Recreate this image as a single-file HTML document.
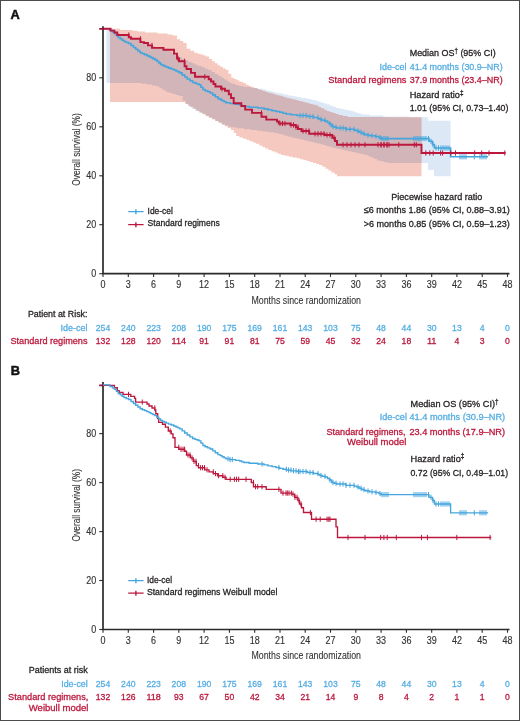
<!DOCTYPE html>
<html><head><meta charset="utf-8"><style>
html,body{margin:0;padding:0;background:#fff;}
svg{display:block;will-change:transform;}
text{font-family:"Liberation Sans",sans-serif;}
</style></head><body>
<svg width="520" height="721" viewBox="0 0 520 721">
<rect x="0.5" y="0.5" width="519" height="720" fill="#fff" stroke="#4a4a4a" stroke-width="1"/>
<text x="10.6" y="18.8" font-size="12.8" fill="#111" stroke="#111" stroke-width="0.5" text-anchor="start" font-weight="bold" >A</text>
<text x="10.8" y="374.6" font-size="12.8" fill="#111" stroke="#111" stroke-width="0.5" text-anchor="start" font-weight="bold" >B</text>
<defs><clipPath id="cb"><path d="M106.5,28.8 L109.2,28.8 L109.2,29.5 L112.0,29.5 L113.5,29.5 L113.5,31.2 L116.5,31.2 L116.5,33.0 L118.0,33.0 L119.7,33.0 L119.7,34.0 L123.0,34.0 L123.0,35.0 L126.3,35.0 L126.3,36.0 L128.0,36.0 L129.5,36.0 L129.5,37.0 L132.5,37.0 L132.5,38.0 L135.5,38.0 L135.5,39.0 L138.5,39.0 L138.5,40.0 L140.0,40.0 L141.7,40.0 L141.7,41.7 L145.0,41.7 L145.0,43.3 L148.3,43.3 L148.3,45.0 L150.0,45.0 L151.7,45.0 L151.7,46.0 L155.0,46.0 L155.0,47.0 L158.3,47.0 L158.3,48.0 L160.0,48.0 L161.7,48.0 L161.7,49.0 L165.0,49.0 L165.0,50.0 L168.3,50.0 L168.3,51.0 L170.0,51.0 L171.7,51.0 L171.7,53.0 L175.0,53.0 L175.0,55.0 L178.3,55.0 L178.3,57.0 L180.0,57.0 L181.7,57.0 L181.7,58.7 L185.0,58.7 L185.0,60.3 L188.3,60.3 L188.3,62.0 L190.0,62.0 L191.7,62.0 L191.7,63.3 L195.0,63.3 L195.0,64.7 L198.3,64.7 L198.3,66.0 L200.0,66.0 L201.7,66.0 L201.7,67.3 L205.0,67.3 L205.0,68.7 L208.3,68.7 L208.3,70.0 L210.0,70.0 L211.7,70.0 L211.7,72.0 L215.0,72.0 L215.0,74.0 L218.3,74.0 L218.3,76.0 L220.0,76.0 L221.4,76.0 L221.4,77.8 L224.1,77.8 L224.1,79.5 L226.9,79.5 L226.9,81.2 L229.6,81.2 L229.6,83.0 L231.0,83.0 L232.5,83.0 L232.5,84.0 L235.5,84.0 L235.5,85.0 L238.5,85.0 L238.5,86.0 L240.0,86.0 L243.6,86.0 L243.6,86.9 L250.8,86.9 L250.8,87.9 L257.9,87.9 L257.9,88.8 L261.5,88.8 L263.1,88.8 L263.1,89.6 L266.1,89.6 L266.1,90.4 L269.2,90.4 L269.2,91.1 L272.4,91.1 L272.4,91.9 L275.4,91.9 L275.4,92.7 L277.0,92.7 L279.2,92.7 L279.2,93.6 L283.5,93.6 L283.5,94.6 L287.8,94.6 L287.8,95.5 L290.0,95.5 L292.2,95.5 L292.2,96.3 L296.8,96.3 L296.8,97.1 L301.2,97.1 L301.2,97.9 L303.5,97.9 L305.2,97.9 L305.2,98.6 L308.6,98.6 L308.6,99.3 L311.9,99.3 L311.9,100.1 L315.3,100.1 L315.3,100.8 L317.0,100.8 L318.4,100.8 L318.4,101.8 L321.3,101.8 L321.3,102.7 L324.2,102.7 L324.2,103.6 L327.1,103.6 L327.1,104.6 L328.5,104.6 L330.1,104.6 L330.1,105.7 L333.2,105.7 L333.2,106.9 L336.4,106.9 L336.4,108.0 L338.0,108.0 L340.2,108.0 L340.2,108.9 L344.8,108.9 L344.8,109.9 L349.2,109.9 L349.2,110.8 L351.5,110.8 L352.9,110.8 L352.9,111.8 L355.8,111.8 L355.8,112.7 L358.7,112.7 L358.7,113.6 L361.6,113.6 L361.6,114.6 L363.0,114.6 L369.8,114.6 L369.8,115.5 L383.2,115.5 L383.2,116.5 L390.0,116.5 L409.0,116.5 L409.0,117.3 L428.0,117.3 L428.0,120.8 L450.6,120.8 L450.6,176.2 L434.0,176.2 L434.0,170.0 L428.0,170.0 L428.0,163.0 L421.5,163.0 L390.0,163.0 L388.1,163.0 L388.1,162.2 L384.2,162.2 L384.2,161.3 L380.4,161.3 L380.4,160.5 L378.5,160.5 L377.1,160.5 L377.1,159.1 L374.2,159.1 L374.2,157.8 L371.3,157.8 L371.3,156.4 L368.4,156.4 L368.4,155.0 L367.0,155.0 L365.3,155.0 L365.3,154.3 L361.8,154.3 L361.8,153.5 L358.4,153.5 L358.4,152.8 L354.9,152.8 L354.9,152.0 L351.5,152.0 L351.5,151.3 L348.1,151.3 L348.1,150.5 L344.6,150.5 L344.6,149.8 L341.2,149.8 L341.2,149.0 L337.7,149.0 L337.7,148.3 L336.0,148.3 L334.6,148.3 L334.6,147.5 L331.7,147.5 L331.7,146.7 L328.8,146.7 L328.8,145.9 L326.0,145.9 L326.0,145.1 L323.1,145.1 L323.1,144.3 L320.2,144.3 L320.2,143.5 L318.8,143.5 L317.2,143.5 L317.2,142.7 L314.0,142.7 L314.0,142.0 L310.8,142.0 L310.8,141.2 L307.6,141.2 L307.6,140.5 L304.4,140.5 L304.4,139.7 L301.2,139.7 L301.2,139.0 L298.0,139.0 L298.0,138.2 L294.8,138.2 L294.8,137.5 L291.6,137.5 L291.6,136.7 L290.0,136.7 L288.4,136.7 L288.4,135.8 L285.1,135.8 L285.1,134.8 L281.9,134.8 L281.9,133.9 L278.6,133.9 L278.6,133.0 L277.0,133.0 L274.1,133.0 L274.1,132.2 L268.3,132.2 L268.3,131.5 L262.5,131.5 L262.5,130.7 L256.7,130.7 L256.7,130.0 L250.9,130.0 L250.9,129.2 L248.0,129.2 L244.2,129.2 L244.2,128.2 L236.5,128.2 L236.5,127.3 L232.7,127.3 L231.2,127.3 L231.2,126.4 L228.2,126.4 L228.2,125.4 L225.3,125.4 L225.3,124.5 L223.8,124.5 L222.1,124.5 L222.1,122.8 L218.7,122.8 L218.7,121.0 L217.0,121.0 L215.3,121.0 L215.3,119.2 L212.1,119.2 L212.1,117.5 L210.4,117.5 L208.7,117.5 L208.7,115.8 L205.3,115.8 L205.3,114.0 L203.6,114.0 L201.9,114.0 L201.9,112.5 L198.7,112.5 L198.7,111.0 L197.0,111.0 L195.2,111.0 L195.2,109.0 L191.8,109.0 L191.8,107.0 L190.0,107.0 L188.7,107.0 L188.7,103.9 L185.9,103.9 L185.9,100.8 L184.6,100.8 L182.7,100.8 L182.7,96.0 L180.8,96.0 L179.1,96.0 L179.1,95.0 L175.7,95.0 L175.7,94.0 L172.4,94.0 L172.4,93.0 L169.0,93.0 L169.0,92.0 L167.3,92.0 L165.7,92.0 L165.7,90.1 L162.5,90.1 L162.5,88.2 L159.3,88.2 L159.3,86.3 L157.7,86.3 L155.8,86.3 L155.8,85.4 L151.9,85.4 L151.9,84.5 L150.0,84.5 L147.1,84.5 L147.1,83.8 L141.4,83.8 L141.4,83.0 L138.5,83.0 L106.5,83.0 Z"/></clipPath></defs>
<path d="M106.5,28.8 L109.2,28.8 L109.2,29.5 L112.0,29.5 L113.5,29.5 L113.5,31.2 L116.5,31.2 L116.5,33.0 L118.0,33.0 L119.7,33.0 L119.7,34.0 L123.0,34.0 L123.0,35.0 L126.3,35.0 L126.3,36.0 L128.0,36.0 L129.5,36.0 L129.5,37.0 L132.5,37.0 L132.5,38.0 L135.5,38.0 L135.5,39.0 L138.5,39.0 L138.5,40.0 L140.0,40.0 L141.7,40.0 L141.7,41.7 L145.0,41.7 L145.0,43.3 L148.3,43.3 L148.3,45.0 L150.0,45.0 L151.7,45.0 L151.7,46.0 L155.0,46.0 L155.0,47.0 L158.3,47.0 L158.3,48.0 L160.0,48.0 L161.7,48.0 L161.7,49.0 L165.0,49.0 L165.0,50.0 L168.3,50.0 L168.3,51.0 L170.0,51.0 L171.7,51.0 L171.7,53.0 L175.0,53.0 L175.0,55.0 L178.3,55.0 L178.3,57.0 L180.0,57.0 L181.7,57.0 L181.7,58.7 L185.0,58.7 L185.0,60.3 L188.3,60.3 L188.3,62.0 L190.0,62.0 L191.7,62.0 L191.7,63.3 L195.0,63.3 L195.0,64.7 L198.3,64.7 L198.3,66.0 L200.0,66.0 L201.7,66.0 L201.7,67.3 L205.0,67.3 L205.0,68.7 L208.3,68.7 L208.3,70.0 L210.0,70.0 L211.7,70.0 L211.7,72.0 L215.0,72.0 L215.0,74.0 L218.3,74.0 L218.3,76.0 L220.0,76.0 L221.4,76.0 L221.4,77.8 L224.1,77.8 L224.1,79.5 L226.9,79.5 L226.9,81.2 L229.6,81.2 L229.6,83.0 L231.0,83.0 L232.5,83.0 L232.5,84.0 L235.5,84.0 L235.5,85.0 L238.5,85.0 L238.5,86.0 L240.0,86.0 L243.6,86.0 L243.6,86.9 L250.8,86.9 L250.8,87.9 L257.9,87.9 L257.9,88.8 L261.5,88.8 L263.1,88.8 L263.1,89.6 L266.1,89.6 L266.1,90.4 L269.2,90.4 L269.2,91.1 L272.4,91.1 L272.4,91.9 L275.4,91.9 L275.4,92.7 L277.0,92.7 L279.2,92.7 L279.2,93.6 L283.5,93.6 L283.5,94.6 L287.8,94.6 L287.8,95.5 L290.0,95.5 L292.2,95.5 L292.2,96.3 L296.8,96.3 L296.8,97.1 L301.2,97.1 L301.2,97.9 L303.5,97.9 L305.2,97.9 L305.2,98.6 L308.6,98.6 L308.6,99.3 L311.9,99.3 L311.9,100.1 L315.3,100.1 L315.3,100.8 L317.0,100.8 L318.4,100.8 L318.4,101.8 L321.3,101.8 L321.3,102.7 L324.2,102.7 L324.2,103.6 L327.1,103.6 L327.1,104.6 L328.5,104.6 L330.1,104.6 L330.1,105.7 L333.2,105.7 L333.2,106.9 L336.4,106.9 L336.4,108.0 L338.0,108.0 L340.2,108.0 L340.2,108.9 L344.8,108.9 L344.8,109.9 L349.2,109.9 L349.2,110.8 L351.5,110.8 L352.9,110.8 L352.9,111.8 L355.8,111.8 L355.8,112.7 L358.7,112.7 L358.7,113.6 L361.6,113.6 L361.6,114.6 L363.0,114.6 L369.8,114.6 L369.8,115.5 L383.2,115.5 L383.2,116.5 L390.0,116.5 L409.0,116.5 L409.0,117.3 L428.0,117.3 L428.0,120.8 L450.6,120.8 L450.6,176.2 L434.0,176.2 L434.0,170.0 L428.0,170.0 L428.0,163.0 L421.5,163.0 L390.0,163.0 L388.1,163.0 L388.1,162.2 L384.2,162.2 L384.2,161.3 L380.4,161.3 L380.4,160.5 L378.5,160.5 L377.1,160.5 L377.1,159.1 L374.2,159.1 L374.2,157.8 L371.3,157.8 L371.3,156.4 L368.4,156.4 L368.4,155.0 L367.0,155.0 L365.3,155.0 L365.3,154.3 L361.8,154.3 L361.8,153.5 L358.4,153.5 L358.4,152.8 L354.9,152.8 L354.9,152.0 L351.5,152.0 L351.5,151.3 L348.1,151.3 L348.1,150.5 L344.6,150.5 L344.6,149.8 L341.2,149.8 L341.2,149.0 L337.7,149.0 L337.7,148.3 L336.0,148.3 L334.6,148.3 L334.6,147.5 L331.7,147.5 L331.7,146.7 L328.8,146.7 L328.8,145.9 L326.0,145.9 L326.0,145.1 L323.1,145.1 L323.1,144.3 L320.2,144.3 L320.2,143.5 L318.8,143.5 L317.2,143.5 L317.2,142.7 L314.0,142.7 L314.0,142.0 L310.8,142.0 L310.8,141.2 L307.6,141.2 L307.6,140.5 L304.4,140.5 L304.4,139.7 L301.2,139.7 L301.2,139.0 L298.0,139.0 L298.0,138.2 L294.8,138.2 L294.8,137.5 L291.6,137.5 L291.6,136.7 L290.0,136.7 L288.4,136.7 L288.4,135.8 L285.1,135.8 L285.1,134.8 L281.9,134.8 L281.9,133.9 L278.6,133.9 L278.6,133.0 L277.0,133.0 L274.1,133.0 L274.1,132.2 L268.3,132.2 L268.3,131.5 L262.5,131.5 L262.5,130.7 L256.7,130.7 L256.7,130.0 L250.9,130.0 L250.9,129.2 L248.0,129.2 L244.2,129.2 L244.2,128.2 L236.5,128.2 L236.5,127.3 L232.7,127.3 L231.2,127.3 L231.2,126.4 L228.2,126.4 L228.2,125.4 L225.3,125.4 L225.3,124.5 L223.8,124.5 L222.1,124.5 L222.1,122.8 L218.7,122.8 L218.7,121.0 L217.0,121.0 L215.3,121.0 L215.3,119.2 L212.1,119.2 L212.1,117.5 L210.4,117.5 L208.7,117.5 L208.7,115.8 L205.3,115.8 L205.3,114.0 L203.6,114.0 L201.9,114.0 L201.9,112.5 L198.7,112.5 L198.7,111.0 L197.0,111.0 L195.2,111.0 L195.2,109.0 L191.8,109.0 L191.8,107.0 L190.0,107.0 L188.7,107.0 L188.7,103.9 L185.9,103.9 L185.9,100.8 L184.6,100.8 L182.7,100.8 L182.7,96.0 L180.8,96.0 L179.1,96.0 L179.1,95.0 L175.7,95.0 L175.7,94.0 L172.4,94.0 L172.4,93.0 L169.0,93.0 L169.0,92.0 L167.3,92.0 L165.7,92.0 L165.7,90.1 L162.5,90.1 L162.5,88.2 L159.3,88.2 L159.3,86.3 L157.7,86.3 L155.8,86.3 L155.8,85.4 L151.9,85.4 L151.9,84.5 L150.0,84.5 L147.1,84.5 L147.1,83.8 L141.4,83.8 L141.4,83.0 L138.5,83.0 L106.5,83.0 Z" fill="#dce8f5"/>
<path d="M110.0,28.8 L120.0,28.8 L120.0,30.0 L130.0,30.0 L132.5,30.0 L132.5,30.8 L137.5,30.8 L137.5,31.5 L140.0,31.5 L145.0,31.5 L145.0,32.5 L150.0,32.5 L157.5,32.5 L157.5,33.5 L165.0,33.5 L167.5,33.5 L167.5,34.5 L172.5,34.5 L172.5,35.4 L175.0,35.4 L177.0,35.4 L177.0,39.2 L179.0,39.2 L180.4,39.2 L180.4,41.1 L183.2,41.1 L183.2,43.0 L184.6,43.0 L186.6,43.0 L186.6,48.8 L188.5,48.8 L190.4,48.8 L190.4,50.8 L194.1,50.8 L194.1,52.7 L196.0,52.7 L197.5,52.7 L197.5,53.7 L200.5,53.7 L200.5,54.6 L202.0,54.6 L203.4,54.6 L203.4,55.5 L206.3,55.5 L206.3,56.5 L207.7,56.5 L209.1,56.5 L209.1,58.9 L212.1,58.9 L212.1,61.3 L213.5,61.3 L214.9,61.3 L214.9,63.2 L217.6,63.2 L217.6,65.2 L219.0,65.2 L220.3,65.2 L220.3,66.8 L223.0,66.8 L223.0,68.4 L225.7,68.4 L225.7,70.0 L227.0,70.0 L228.4,70.0 L228.4,73.8 L231.3,73.8 L231.3,77.7 L232.7,77.7 L234.0,77.7 L234.0,79.0 L236.6,79.0 L236.6,80.2 L239.1,80.2 L239.1,81.5 L240.4,81.5 L241.2,81.5 L241.2,82.0 L242.0,82.0 L243.3,82.0 L243.3,83.3 L246.0,83.3 L246.0,84.7 L248.7,84.7 L248.7,86.0 L250.0,86.0 L251.4,86.0 L251.4,87.0 L254.1,87.0 L254.1,88.0 L256.9,88.0 L256.9,89.0 L259.6,89.0 L259.6,90.0 L261.0,90.0 L262.5,90.0 L262.5,91.0 L265.5,91.0 L265.5,92.0 L268.5,92.0 L268.5,93.0 L270.0,93.0 L271.5,93.0 L271.5,93.8 L274.5,93.8 L274.5,94.7 L277.5,94.7 L277.5,95.5 L280.5,95.5 L280.5,96.3 L283.5,96.3 L283.5,97.2 L286.5,97.2 L286.5,98.0 L288.0,98.0 L289.5,98.0 L289.5,98.7 L292.5,98.7 L292.5,99.5 L295.5,99.5 L295.5,100.2 L298.5,100.2 L298.5,101.0 L301.5,101.0 L301.5,101.7 L303.0,101.7 L304.4,101.7 L304.4,102.5 L307.2,102.5 L307.2,103.3 L310.0,103.3 L310.0,104.0 L312.8,104.0 L312.8,104.8 L315.6,104.8 L315.6,105.6 L317.0,105.6 L318.4,105.6 L318.4,106.9 L321.1,106.9 L321.1,108.3 L323.9,108.3 L323.9,109.7 L326.6,109.7 L326.6,111.0 L328.0,111.0 L329.5,111.0 L329.5,112.0 L332.5,112.0 L332.5,113.0 L335.5,113.0 L335.5,114.0 L338.5,114.0 L338.5,115.0 L340.0,115.0 L342.5,115.0 L342.5,116.0 L347.5,116.0 L347.5,117.0 L350.0,117.0 L385.8,117.0 L385.8,117.3 L421.5,117.3 L421.5,176.2 L338.0,176.2 L337.0,176.2 L337.0,174.2 L336.0,174.2 L334.5,174.2 L334.5,172.4 L331.4,172.4 L331.4,170.5 L328.4,170.5 L328.4,168.7 L325.4,168.7 L325.4,166.8 L322.3,166.8 L322.3,165.0 L320.8,165.0 L319.2,165.0 L319.2,164.0 L316.1,164.0 L316.1,163.0 L312.9,163.0 L312.9,162.0 L309.7,162.0 L309.7,161.0 L306.6,161.0 L306.6,160.0 L305.0,160.0 L303.3,160.0 L303.3,159.2 L300.0,159.2 L300.0,158.3 L296.7,158.3 L296.7,157.5 L295.0,157.5 L292.9,157.5 L292.9,156.7 L288.8,156.7 L288.8,155.8 L284.6,155.8 L284.6,155.0 L282.5,155.0 L280.9,155.0 L280.9,153.8 L277.8,153.8 L277.8,152.5 L274.7,152.5 L274.7,151.2 L271.6,151.2 L271.6,150.0 L270.0,150.0 L268.4,150.0 L268.4,148.4 L265.3,148.4 L265.3,146.9 L262.2,146.9 L262.2,145.4 L259.1,145.4 L259.1,143.8 L257.5,143.8 L255.9,143.8 L255.9,142.6 L252.8,142.6 L252.8,141.3 L249.7,141.3 L249.7,140.1 L246.6,140.1 L246.6,138.8 L245.0,138.8 L243.1,138.8 L243.1,137.4 L239.4,137.4 L239.4,136.0 L237.5,136.0 L236.2,136.0 L236.2,133.0 L233.8,133.0 L233.8,130.0 L232.5,130.0 L230.9,130.0 L230.9,128.1 L227.8,128.1 L227.8,126.2 L224.7,126.2 L224.7,124.4 L221.6,124.4 L221.6,122.5 L220.0,122.5 L218.4,122.5 L218.4,120.9 L215.3,120.9 L215.3,119.3 L212.2,119.3 L212.2,117.8 L209.1,117.8 L209.1,116.2 L207.5,116.2 L205.9,116.2 L205.9,114.3 L202.8,114.3 L202.8,112.5 L199.7,112.5 L199.7,110.7 L196.6,110.7 L196.6,108.8 L195.0,108.8 L193.6,108.8 L193.6,107.1 L190.7,107.1 L190.7,105.4 L187.9,105.4 L187.9,103.7 L185.0,103.7 L185.0,102.0 L183.6,102.0 L110.0,102.0 Z" fill="#f5c9bf"/>
<path d="M110.0,28.8 L120.0,28.8 L120.0,30.0 L130.0,30.0 L132.5,30.0 L132.5,30.8 L137.5,30.8 L137.5,31.5 L140.0,31.5 L145.0,31.5 L145.0,32.5 L150.0,32.5 L157.5,32.5 L157.5,33.5 L165.0,33.5 L167.5,33.5 L167.5,34.5 L172.5,34.5 L172.5,35.4 L175.0,35.4 L177.0,35.4 L177.0,39.2 L179.0,39.2 L180.4,39.2 L180.4,41.1 L183.2,41.1 L183.2,43.0 L184.6,43.0 L186.6,43.0 L186.6,48.8 L188.5,48.8 L190.4,48.8 L190.4,50.8 L194.1,50.8 L194.1,52.7 L196.0,52.7 L197.5,52.7 L197.5,53.7 L200.5,53.7 L200.5,54.6 L202.0,54.6 L203.4,54.6 L203.4,55.5 L206.3,55.5 L206.3,56.5 L207.7,56.5 L209.1,56.5 L209.1,58.9 L212.1,58.9 L212.1,61.3 L213.5,61.3 L214.9,61.3 L214.9,63.2 L217.6,63.2 L217.6,65.2 L219.0,65.2 L220.3,65.2 L220.3,66.8 L223.0,66.8 L223.0,68.4 L225.7,68.4 L225.7,70.0 L227.0,70.0 L228.4,70.0 L228.4,73.8 L231.3,73.8 L231.3,77.7 L232.7,77.7 L234.0,77.7 L234.0,79.0 L236.6,79.0 L236.6,80.2 L239.1,80.2 L239.1,81.5 L240.4,81.5 L241.2,81.5 L241.2,82.0 L242.0,82.0 L243.3,82.0 L243.3,83.3 L246.0,83.3 L246.0,84.7 L248.7,84.7 L248.7,86.0 L250.0,86.0 L251.4,86.0 L251.4,87.0 L254.1,87.0 L254.1,88.0 L256.9,88.0 L256.9,89.0 L259.6,89.0 L259.6,90.0 L261.0,90.0 L262.5,90.0 L262.5,91.0 L265.5,91.0 L265.5,92.0 L268.5,92.0 L268.5,93.0 L270.0,93.0 L271.5,93.0 L271.5,93.8 L274.5,93.8 L274.5,94.7 L277.5,94.7 L277.5,95.5 L280.5,95.5 L280.5,96.3 L283.5,96.3 L283.5,97.2 L286.5,97.2 L286.5,98.0 L288.0,98.0 L289.5,98.0 L289.5,98.7 L292.5,98.7 L292.5,99.5 L295.5,99.5 L295.5,100.2 L298.5,100.2 L298.5,101.0 L301.5,101.0 L301.5,101.7 L303.0,101.7 L304.4,101.7 L304.4,102.5 L307.2,102.5 L307.2,103.3 L310.0,103.3 L310.0,104.0 L312.8,104.0 L312.8,104.8 L315.6,104.8 L315.6,105.6 L317.0,105.6 L318.4,105.6 L318.4,106.9 L321.1,106.9 L321.1,108.3 L323.9,108.3 L323.9,109.7 L326.6,109.7 L326.6,111.0 L328.0,111.0 L329.5,111.0 L329.5,112.0 L332.5,112.0 L332.5,113.0 L335.5,113.0 L335.5,114.0 L338.5,114.0 L338.5,115.0 L340.0,115.0 L342.5,115.0 L342.5,116.0 L347.5,116.0 L347.5,117.0 L350.0,117.0 L385.8,117.0 L385.8,117.3 L421.5,117.3 L421.5,176.2 L338.0,176.2 L337.0,176.2 L337.0,174.2 L336.0,174.2 L334.5,174.2 L334.5,172.4 L331.4,172.4 L331.4,170.5 L328.4,170.5 L328.4,168.7 L325.4,168.7 L325.4,166.8 L322.3,166.8 L322.3,165.0 L320.8,165.0 L319.2,165.0 L319.2,164.0 L316.1,164.0 L316.1,163.0 L312.9,163.0 L312.9,162.0 L309.7,162.0 L309.7,161.0 L306.6,161.0 L306.6,160.0 L305.0,160.0 L303.3,160.0 L303.3,159.2 L300.0,159.2 L300.0,158.3 L296.7,158.3 L296.7,157.5 L295.0,157.5 L292.9,157.5 L292.9,156.7 L288.8,156.7 L288.8,155.8 L284.6,155.8 L284.6,155.0 L282.5,155.0 L280.9,155.0 L280.9,153.8 L277.8,153.8 L277.8,152.5 L274.7,152.5 L274.7,151.2 L271.6,151.2 L271.6,150.0 L270.0,150.0 L268.4,150.0 L268.4,148.4 L265.3,148.4 L265.3,146.9 L262.2,146.9 L262.2,145.4 L259.1,145.4 L259.1,143.8 L257.5,143.8 L255.9,143.8 L255.9,142.6 L252.8,142.6 L252.8,141.3 L249.7,141.3 L249.7,140.1 L246.6,140.1 L246.6,138.8 L245.0,138.8 L243.1,138.8 L243.1,137.4 L239.4,137.4 L239.4,136.0 L237.5,136.0 L236.2,136.0 L236.2,133.0 L233.8,133.0 L233.8,130.0 L232.5,130.0 L230.9,130.0 L230.9,128.1 L227.8,128.1 L227.8,126.2 L224.7,126.2 L224.7,124.4 L221.6,124.4 L221.6,122.5 L220.0,122.5 L218.4,122.5 L218.4,120.9 L215.3,120.9 L215.3,119.3 L212.2,119.3 L212.2,117.8 L209.1,117.8 L209.1,116.2 L207.5,116.2 L205.9,116.2 L205.9,114.3 L202.8,114.3 L202.8,112.5 L199.7,112.5 L199.7,110.7 L196.6,110.7 L196.6,108.8 L195.0,108.8 L193.6,108.8 L193.6,107.1 L190.7,107.1 L190.7,105.4 L187.9,105.4 L187.9,103.7 L185.0,103.7 L185.0,102.0 L183.6,102.0 L110.0,102.0 Z" fill="#d2b5b8" clip-path="url(#cb)"/>
<path d="M103,26.2 V273.7 H509.5" fill="none" stroke="#2b2b2b" stroke-width="1.7"/>
<line x1="99.3" y1="273.7" x2="103" y2="273.7" stroke="#2b2b2b" stroke-width="1.1"/>
<text x="96.3" y="277.3" font-size="10.2" text-anchor="end" fill="#333" stroke="#333" stroke-width="0.15" transform="translate(96.3,0) scale(0.88,1) translate(-96.3,0)">0</text>
<line x1="99.3" y1="224.7" x2="103" y2="224.7" stroke="#2b2b2b" stroke-width="1.1"/>
<text x="96.3" y="228.3" font-size="10.2" text-anchor="end" fill="#333" stroke="#333" stroke-width="0.15" transform="translate(96.3,0) scale(0.88,1) translate(-96.3,0)">20</text>
<line x1="99.3" y1="175.8" x2="103" y2="175.8" stroke="#2b2b2b" stroke-width="1.1"/>
<text x="96.3" y="179.4" font-size="10.2" text-anchor="end" fill="#333" stroke="#333" stroke-width="0.15" transform="translate(96.3,0) scale(0.88,1) translate(-96.3,0)">40</text>
<line x1="99.3" y1="126.8" x2="103" y2="126.8" stroke="#2b2b2b" stroke-width="1.1"/>
<text x="96.3" y="130.4" font-size="10.2" text-anchor="end" fill="#333" stroke="#333" stroke-width="0.15" transform="translate(96.3,0) scale(0.88,1) translate(-96.3,0)">60</text>
<line x1="99.3" y1="77.8" x2="103" y2="77.8" stroke="#2b2b2b" stroke-width="1.1"/>
<text x="96.3" y="81.4" font-size="10.2" text-anchor="end" fill="#333" stroke="#333" stroke-width="0.15" transform="translate(96.3,0) scale(0.88,1) translate(-96.3,0)">80</text>
<line x1="103.0" y1="273.7" x2="103.0" y2="276.9" stroke="#2b2b2b" stroke-width="1.1"/>
<text x="103.0" y="288.5" font-size="10.2" text-anchor="middle" fill="#333" stroke="#333" stroke-width="0.15" transform="translate(103.0,0) scale(0.88,1) translate(-103.0,0)">0</text>
<line x1="128.3" y1="273.7" x2="128.3" y2="276.9" stroke="#2b2b2b" stroke-width="1.1"/>
<text x="128.3" y="288.5" font-size="10.2" text-anchor="middle" fill="#333" stroke="#333" stroke-width="0.15" transform="translate(128.3,0) scale(0.88,1) translate(-128.3,0)">3</text>
<line x1="153.6" y1="273.7" x2="153.6" y2="276.9" stroke="#2b2b2b" stroke-width="1.1"/>
<text x="153.6" y="288.5" font-size="10.2" text-anchor="middle" fill="#333" stroke="#333" stroke-width="0.15" transform="translate(153.6,0) scale(0.88,1) translate(-153.6,0)">6</text>
<line x1="178.8" y1="273.7" x2="178.8" y2="276.9" stroke="#2b2b2b" stroke-width="1.1"/>
<text x="178.8" y="288.5" font-size="10.2" text-anchor="middle" fill="#333" stroke="#333" stroke-width="0.15" transform="translate(178.8,0) scale(0.88,1) translate(-178.8,0)">9</text>
<line x1="204.1" y1="273.7" x2="204.1" y2="276.9" stroke="#2b2b2b" stroke-width="1.1"/>
<text x="204.1" y="288.5" font-size="10.2" text-anchor="middle" fill="#333" stroke="#333" stroke-width="0.15" transform="translate(204.1,0) scale(0.88,1) translate(-204.1,0)">12</text>
<line x1="229.4" y1="273.7" x2="229.4" y2="276.9" stroke="#2b2b2b" stroke-width="1.1"/>
<text x="229.4" y="288.5" font-size="10.2" text-anchor="middle" fill="#333" stroke="#333" stroke-width="0.15" transform="translate(229.4,0) scale(0.88,1) translate(-229.4,0)">15</text>
<line x1="254.7" y1="273.7" x2="254.7" y2="276.9" stroke="#2b2b2b" stroke-width="1.1"/>
<text x="254.7" y="288.5" font-size="10.2" text-anchor="middle" fill="#333" stroke="#333" stroke-width="0.15" transform="translate(254.7,0) scale(0.88,1) translate(-254.7,0)">18</text>
<line x1="280.0" y1="273.7" x2="280.0" y2="276.9" stroke="#2b2b2b" stroke-width="1.1"/>
<text x="280.0" y="288.5" font-size="10.2" text-anchor="middle" fill="#333" stroke="#333" stroke-width="0.15" transform="translate(280.0,0) scale(0.88,1) translate(-280.0,0)">21</text>
<line x1="305.2" y1="273.7" x2="305.2" y2="276.9" stroke="#2b2b2b" stroke-width="1.1"/>
<text x="305.2" y="288.5" font-size="10.2" text-anchor="middle" fill="#333" stroke="#333" stroke-width="0.15" transform="translate(305.2,0) scale(0.88,1) translate(-305.2,0)">24</text>
<line x1="330.5" y1="273.7" x2="330.5" y2="276.9" stroke="#2b2b2b" stroke-width="1.1"/>
<text x="330.5" y="288.5" font-size="10.2" text-anchor="middle" fill="#333" stroke="#333" stroke-width="0.15" transform="translate(330.5,0) scale(0.88,1) translate(-330.5,0)">27</text>
<line x1="355.8" y1="273.7" x2="355.8" y2="276.9" stroke="#2b2b2b" stroke-width="1.1"/>
<text x="355.8" y="288.5" font-size="10.2" text-anchor="middle" fill="#333" stroke="#333" stroke-width="0.15" transform="translate(355.8,0) scale(0.88,1) translate(-355.8,0)">30</text>
<line x1="381.1" y1="273.7" x2="381.1" y2="276.9" stroke="#2b2b2b" stroke-width="1.1"/>
<text x="381.1" y="288.5" font-size="10.2" text-anchor="middle" fill="#333" stroke="#333" stroke-width="0.15" transform="translate(381.1,0) scale(0.88,1) translate(-381.1,0)">33</text>
<line x1="406.4" y1="273.7" x2="406.4" y2="276.9" stroke="#2b2b2b" stroke-width="1.1"/>
<text x="406.4" y="288.5" font-size="10.2" text-anchor="middle" fill="#333" stroke="#333" stroke-width="0.15" transform="translate(406.4,0) scale(0.88,1) translate(-406.4,0)">36</text>
<line x1="431.7" y1="273.7" x2="431.7" y2="276.9" stroke="#2b2b2b" stroke-width="1.1"/>
<text x="431.7" y="288.5" font-size="10.2" text-anchor="middle" fill="#333" stroke="#333" stroke-width="0.15" transform="translate(431.7,0) scale(0.88,1) translate(-431.7,0)">39</text>
<line x1="456.9" y1="273.7" x2="456.9" y2="276.9" stroke="#2b2b2b" stroke-width="1.1"/>
<text x="456.9" y="288.5" font-size="10.2" text-anchor="middle" fill="#333" stroke="#333" stroke-width="0.15" transform="translate(456.9,0) scale(0.88,1) translate(-456.9,0)">42</text>
<line x1="482.2" y1="273.7" x2="482.2" y2="276.9" stroke="#2b2b2b" stroke-width="1.1"/>
<text x="482.2" y="288.5" font-size="10.2" text-anchor="middle" fill="#333" stroke="#333" stroke-width="0.15" transform="translate(482.2,0) scale(0.88,1) translate(-482.2,0)">45</text>
<line x1="507.5" y1="273.7" x2="507.5" y2="276.9" stroke="#2b2b2b" stroke-width="1.1"/>
<text x="507.5" y="288.5" font-size="10.2" text-anchor="middle" fill="#333" stroke="#333" stroke-width="0.15" transform="translate(507.5,0) scale(0.88,1) translate(-507.5,0)">48</text>
<text x="251.5" y="303.5" font-size="11" fill="#333" stroke="#333" stroke-width="0.1" textLength="109.5" lengthAdjust="spacingAndGlyphs">Months since randomization</text>
<text x="0" y="0" font-size="11" fill="#333" stroke="#333" stroke-width="0.1" text-anchor="middle" textLength="72.5" lengthAdjust="spacingAndGlyphs" transform="translate(79.6,149.4) rotate(-90)">Overall survival (%)</text>
<path d="M103,382.0 V629.5 H509.5" fill="none" stroke="#2b2b2b" stroke-width="1.7"/>
<line x1="99.3" y1="629.5" x2="103" y2="629.5" stroke="#2b2b2b" stroke-width="1.1"/>
<text x="96.3" y="633.1" font-size="10.2" text-anchor="end" fill="#333" stroke="#333" stroke-width="0.15" transform="translate(96.3,0) scale(0.88,1) translate(-96.3,0)">0</text>
<line x1="99.3" y1="580.5" x2="103" y2="580.5" stroke="#2b2b2b" stroke-width="1.1"/>
<text x="96.3" y="584.1" font-size="10.2" text-anchor="end" fill="#333" stroke="#333" stroke-width="0.15" transform="translate(96.3,0) scale(0.88,1) translate(-96.3,0)">20</text>
<line x1="99.3" y1="531.6" x2="103" y2="531.6" stroke="#2b2b2b" stroke-width="1.1"/>
<text x="96.3" y="535.2" font-size="10.2" text-anchor="end" fill="#333" stroke="#333" stroke-width="0.15" transform="translate(96.3,0) scale(0.88,1) translate(-96.3,0)">40</text>
<line x1="99.3" y1="482.6" x2="103" y2="482.6" stroke="#2b2b2b" stroke-width="1.1"/>
<text x="96.3" y="486.2" font-size="10.2" text-anchor="end" fill="#333" stroke="#333" stroke-width="0.15" transform="translate(96.3,0) scale(0.88,1) translate(-96.3,0)">60</text>
<line x1="99.3" y1="433.6" x2="103" y2="433.6" stroke="#2b2b2b" stroke-width="1.1"/>
<text x="96.3" y="437.2" font-size="10.2" text-anchor="end" fill="#333" stroke="#333" stroke-width="0.15" transform="translate(96.3,0) scale(0.88,1) translate(-96.3,0)">80</text>
<line x1="103.0" y1="629.5" x2="103.0" y2="632.7" stroke="#2b2b2b" stroke-width="1.1"/>
<text x="103.0" y="644.3" font-size="10.2" text-anchor="middle" fill="#333" stroke="#333" stroke-width="0.15" transform="translate(103.0,0) scale(0.88,1) translate(-103.0,0)">0</text>
<line x1="128.3" y1="629.5" x2="128.3" y2="632.7" stroke="#2b2b2b" stroke-width="1.1"/>
<text x="128.3" y="644.3" font-size="10.2" text-anchor="middle" fill="#333" stroke="#333" stroke-width="0.15" transform="translate(128.3,0) scale(0.88,1) translate(-128.3,0)">3</text>
<line x1="153.6" y1="629.5" x2="153.6" y2="632.7" stroke="#2b2b2b" stroke-width="1.1"/>
<text x="153.6" y="644.3" font-size="10.2" text-anchor="middle" fill="#333" stroke="#333" stroke-width="0.15" transform="translate(153.6,0) scale(0.88,1) translate(-153.6,0)">6</text>
<line x1="178.8" y1="629.5" x2="178.8" y2="632.7" stroke="#2b2b2b" stroke-width="1.1"/>
<text x="178.8" y="644.3" font-size="10.2" text-anchor="middle" fill="#333" stroke="#333" stroke-width="0.15" transform="translate(178.8,0) scale(0.88,1) translate(-178.8,0)">9</text>
<line x1="204.1" y1="629.5" x2="204.1" y2="632.7" stroke="#2b2b2b" stroke-width="1.1"/>
<text x="204.1" y="644.3" font-size="10.2" text-anchor="middle" fill="#333" stroke="#333" stroke-width="0.15" transform="translate(204.1,0) scale(0.88,1) translate(-204.1,0)">12</text>
<line x1="229.4" y1="629.5" x2="229.4" y2="632.7" stroke="#2b2b2b" stroke-width="1.1"/>
<text x="229.4" y="644.3" font-size="10.2" text-anchor="middle" fill="#333" stroke="#333" stroke-width="0.15" transform="translate(229.4,0) scale(0.88,1) translate(-229.4,0)">15</text>
<line x1="254.7" y1="629.5" x2="254.7" y2="632.7" stroke="#2b2b2b" stroke-width="1.1"/>
<text x="254.7" y="644.3" font-size="10.2" text-anchor="middle" fill="#333" stroke="#333" stroke-width="0.15" transform="translate(254.7,0) scale(0.88,1) translate(-254.7,0)">18</text>
<line x1="280.0" y1="629.5" x2="280.0" y2="632.7" stroke="#2b2b2b" stroke-width="1.1"/>
<text x="280.0" y="644.3" font-size="10.2" text-anchor="middle" fill="#333" stroke="#333" stroke-width="0.15" transform="translate(280.0,0) scale(0.88,1) translate(-280.0,0)">21</text>
<line x1="305.2" y1="629.5" x2="305.2" y2="632.7" stroke="#2b2b2b" stroke-width="1.1"/>
<text x="305.2" y="644.3" font-size="10.2" text-anchor="middle" fill="#333" stroke="#333" stroke-width="0.15" transform="translate(305.2,0) scale(0.88,1) translate(-305.2,0)">24</text>
<line x1="330.5" y1="629.5" x2="330.5" y2="632.7" stroke="#2b2b2b" stroke-width="1.1"/>
<text x="330.5" y="644.3" font-size="10.2" text-anchor="middle" fill="#333" stroke="#333" stroke-width="0.15" transform="translate(330.5,0) scale(0.88,1) translate(-330.5,0)">27</text>
<line x1="355.8" y1="629.5" x2="355.8" y2="632.7" stroke="#2b2b2b" stroke-width="1.1"/>
<text x="355.8" y="644.3" font-size="10.2" text-anchor="middle" fill="#333" stroke="#333" stroke-width="0.15" transform="translate(355.8,0) scale(0.88,1) translate(-355.8,0)">30</text>
<line x1="381.1" y1="629.5" x2="381.1" y2="632.7" stroke="#2b2b2b" stroke-width="1.1"/>
<text x="381.1" y="644.3" font-size="10.2" text-anchor="middle" fill="#333" stroke="#333" stroke-width="0.15" transform="translate(381.1,0) scale(0.88,1) translate(-381.1,0)">33</text>
<line x1="406.4" y1="629.5" x2="406.4" y2="632.7" stroke="#2b2b2b" stroke-width="1.1"/>
<text x="406.4" y="644.3" font-size="10.2" text-anchor="middle" fill="#333" stroke="#333" stroke-width="0.15" transform="translate(406.4,0) scale(0.88,1) translate(-406.4,0)">36</text>
<line x1="431.7" y1="629.5" x2="431.7" y2="632.7" stroke="#2b2b2b" stroke-width="1.1"/>
<text x="431.7" y="644.3" font-size="10.2" text-anchor="middle" fill="#333" stroke="#333" stroke-width="0.15" transform="translate(431.7,0) scale(0.88,1) translate(-431.7,0)">39</text>
<line x1="456.9" y1="629.5" x2="456.9" y2="632.7" stroke="#2b2b2b" stroke-width="1.1"/>
<text x="456.9" y="644.3" font-size="10.2" text-anchor="middle" fill="#333" stroke="#333" stroke-width="0.15" transform="translate(456.9,0) scale(0.88,1) translate(-456.9,0)">42</text>
<line x1="482.2" y1="629.5" x2="482.2" y2="632.7" stroke="#2b2b2b" stroke-width="1.1"/>
<text x="482.2" y="644.3" font-size="10.2" text-anchor="middle" fill="#333" stroke="#333" stroke-width="0.15" transform="translate(482.2,0) scale(0.88,1) translate(-482.2,0)">45</text>
<line x1="507.5" y1="629.5" x2="507.5" y2="632.7" stroke="#2b2b2b" stroke-width="1.1"/>
<text x="507.5" y="644.3" font-size="10.2" text-anchor="middle" fill="#333" stroke="#333" stroke-width="0.15" transform="translate(507.5,0) scale(0.88,1) translate(-507.5,0)">48</text>
<text x="251.5" y="659.3" font-size="11" fill="#333" stroke="#333" stroke-width="0.1" textLength="109.5" lengthAdjust="spacingAndGlyphs">Months since randomization</text>
<text x="0" y="0" font-size="11" fill="#333" stroke="#333" stroke-width="0.1" text-anchor="middle" textLength="72.5" lengthAdjust="spacingAndGlyphs" transform="translate(79.6,505.2) rotate(-90)">Overall survival (%)</text>
<path d="M103.0,28.8 L108.5,28.8 L110.0,28.8 L110.0,30.5 L111.5,30.5 L112.5,30.5 L112.5,31.9 L114.4,31.9 L114.4,33.4 L115.4,33.4 L116.4,33.4 L116.4,35.5 L118.2,35.5 L118.2,37.5 L119.2,37.5 L120.2,37.5 L120.2,38.8 L122.1,38.8 L122.1,40.2 L124.0,40.2 L124.0,41.5 L125.0,41.5 L126.2,41.5 L126.2,42.5 L128.6,42.5 L128.6,43.5 L129.8,43.5 L131.0,43.5 L131.0,45.5 L133.4,45.5 L133.4,47.5 L134.6,47.5 L135.7,47.5 L135.7,49.2 L137.9,49.2 L137.9,51.0 L140.2,51.0 L140.2,52.7 L141.3,52.7 L142.4,52.7 L142.4,53.7 L144.7,53.7 L144.7,54.6 L146.9,54.6 L146.9,55.6 L148.0,55.6 L149.0,55.6 L149.0,56.6 L150.9,56.6 L150.9,57.6 L152.9,57.6 L152.9,58.6 L154.8,58.6 L154.8,59.6 L155.8,59.6 L156.8,59.6 L156.8,61.2 L158.7,61.2 L158.7,62.9 L160.6,62.9 L160.6,64.5 L161.5,64.5 L162.5,64.5 L162.5,65.4 L164.4,65.4 L164.4,66.2 L166.3,66.2 L166.3,67.1 L167.3,67.1 L168.6,67.1 L168.6,68.1 L171.2,68.1 L171.2,69.0 L173.7,69.0 L173.7,70.0 L175.0,70.0 L176.0,70.0 L176.0,71.0 L177.9,71.0 L177.9,71.9 L179.8,71.9 L179.8,72.9 L180.8,72.9 L182.1,72.9 L182.1,74.9 L184.7,74.9 L184.7,77.0 L187.2,77.0 L187.2,79.0 L188.5,79.0 L189.9,79.0 L189.9,80.8 L192.6,80.8 L192.6,82.5 L194.0,82.5 L195.0,82.5 L195.0,83.3 L197.0,83.3 L197.0,84.0 L199.0,84.0 L199.0,84.8 L200.0,84.8 L200.9,84.8 L200.9,87.2 L202.9,87.2 L202.9,89.5 L203.8,89.5 L205.1,89.5 L205.1,90.7 L207.7,90.7 L207.7,91.8 L210.2,91.8 L210.2,93.0 L211.5,93.0 L212.8,93.0 L212.8,94.9 L215.3,94.9 L215.3,96.7 L217.9,96.7 L217.9,98.6 L219.2,98.6 L220.2,98.6 L220.2,99.6 L222.1,99.6 L222.1,100.7 L224.1,100.7 L224.1,101.8 L226.0,101.8 L226.0,102.8 L227.0,102.8 L229.9,102.8 L229.9,103.5 L235.7,103.5 L235.7,104.3 L238.6,104.3 L239.7,104.3 L239.7,105.0 L241.8,105.0 L241.8,105.8 L243.9,105.8 L243.9,106.5 L245.0,106.5 L249.2,106.5 L249.2,107.2 L257.8,107.2 L257.8,108.0 L262.0,108.0 L264.0,108.0 L264.0,108.9 L268.0,108.9 L268.0,109.8 L270.0,109.8 L272.0,109.8 L272.0,110.7 L276.0,110.7 L276.0,111.5 L278.0,111.5 L279.7,111.5 L279.7,112.3 L283.0,112.3 L283.0,113.2 L286.3,113.2 L286.3,114.0 L288.0,114.0 L291.0,114.0 L291.0,114.8 L297.0,114.8 L297.0,115.5 L300.0,115.5 L305.0,115.5 L307.5,115.5 L307.5,116.5 L310.0,116.5 L313.5,116.5 L313.5,117.5 L317.0,117.5 L318.0,117.5 L318.0,118.5 L320.0,118.5 L320.0,119.5 L321.0,119.5 L322.4,119.5 L322.4,120.2 L325.1,120.2 L325.1,121.0 L326.5,121.0 L327.5,121.0 L327.5,122.5 L329.4,122.5 L329.4,124.0 L330.4,124.0 L331.7,124.0 L331.7,126.5 L333.0,126.5 L334.2,126.5 L334.2,127.2 L336.8,127.2 L336.8,128.0 L338.0,128.0 L345.8,128.0 L345.8,129.3 L353.5,129.3 L354.6,129.3 L354.6,130.2 L356.9,130.2 L356.9,131.0 L358.0,131.0 L359.2,131.0 L359.2,132.2 L361.8,132.2 L361.8,133.5 L363.0,133.5 L364.0,133.5 L364.0,134.2 L366.0,134.2 L366.0,135.0 L367.0,135.0 L369.8,135.0 L369.8,135.8 L375.2,135.8 L375.2,136.5 L378.0,136.5 L379.0,136.5 L379.0,137.6 L381.0,137.6 L381.0,138.6 L382.0,138.6 L427.7,138.6 L427.7,138.6 L429.0,138.6 L429.0,141.3 L432.5,141.3 L432.5,144.5 L434.4,144.5 L434.4,148.0 L450.6,148.0 L450.6,148.0 L450.6,148.0 L450.6,156.8 L488.0,156.8 L488.0,156.8" fill="none" stroke="#45a5dd" stroke-width="1.6"/>
<path d="M103.0,28.8 L110.6,28.8 L110.6,30.6 L114.4,30.6 L114.4,32.5 L117.3,32.5 L117.3,35.0 L128.8,35.0 L128.8,37.3 L131.0,37.3 L131.0,38.8 L140.4,38.8 L140.4,42.1 L144.0,42.1 L144.0,43.0 L148.0,43.0 L148.0,45.4 L152.0,45.4 L152.0,47.9 L163.5,47.9 L163.5,49.8 L174.0,49.8 L174.0,53.6 L177.0,53.6 L177.0,58.5 L179.0,58.5 L179.0,61.3 L184.6,61.3 L184.6,66.2 L186.5,66.2 L186.5,69.0 L191.0,69.0 L191.0,72.9 L195.0,72.9 L195.0,76.8 L208.7,76.8 L208.7,79.2 L211.0,79.2 L211.0,81.5 L213.5,81.5 L213.5,84.0 L215.4,84.0 L215.4,86.5 L221.0,86.5 L221.0,88.8 L225.0,88.8 L225.0,90.7 L228.8,90.7 L228.8,94.2 L231.0,94.2 L231.0,98.0 L233.7,98.0 L233.7,103.3 L241.3,103.3 L241.3,106.0 L245.2,106.0 L245.2,109.6 L252.0,109.6 L252.0,112.9 L261.5,112.9 L261.5,116.7 L266.3,116.7 L266.3,119.6 L277.0,119.6 L277.0,121.5 L278.8,121.5 L278.8,123.5 L290.4,123.5 L290.4,125.0 L295.8,125.0 L295.8,127.1 L298.0,127.1 L298.0,129.0 L301.5,129.0 L301.5,131.0 L309.2,131.0 L309.2,133.8 L324.6,133.8 L324.6,135.0 L332.3,135.0 L332.3,137.7 L335.0,137.7 L335.0,141.0 L337.0,141.0 L337.0,144.8 L421.5,144.8 L421.5,153.0 L505.6,153.0" fill="none" stroke="#bc173c" stroke-width="1.9"/>
<path d="M99.2,28.9H104M99.2,385.4H104" stroke="#9a1236" stroke-width="1.6"/>
<path d="M103.0,385.4 L114.4,385.4 L114.4,387.7 L117.3,387.7 L117.3,390.6 L119.2,390.6 L119.2,392.5 L123.0,392.5 L123.0,394.4 L130.8,394.4 L130.8,396.3 L134.6,396.3 L134.6,398.3 L135.6,398.3 L135.6,402.1 L147.0,402.1 L147.0,404.0 L149.0,404.0 L149.0,406.0 L152.0,406.0 L152.0,408.0 L154.8,408.0 L154.8,409.8 L155.8,409.8 L155.8,413.7 L157.7,413.7 L157.7,418.5 L158.7,418.5 L158.7,422.3 L162.5,422.3 L162.5,424.2 L165.4,424.2 L165.4,427.1 L168.3,427.1 L168.3,431.0 L171.2,431.0 L171.2,433.8 L173.0,433.8 L173.0,437.7 L175.0,437.7 L175.0,447.3 L178.8,447.3 L178.8,449.2 L184.6,449.2 L184.6,451.2 L186.5,451.2 L186.5,455.0 L190.4,455.0 L190.4,457.9 L193.2,457.9 L193.2,461.3 L196.3,461.3 L196.3,465.6 L198.5,465.6 L198.5,467.7 L204.8,467.7 L204.8,469.8 L209.0,469.8 L209.0,471.9 L213.3,471.9 L213.3,473.6 L217.5,473.6 L217.5,475.7 L222.8,475.7 L222.8,477.2 L226.0,477.2 L226.0,479.3 L251.3,479.3 L251.3,482.5 L253.5,482.5 L253.5,486.7 L266.2,486.7 L266.2,489.3 L281.0,489.3 L281.0,493.1 L291.5,493.1 L291.5,494.1 L294.7,494.1 L294.7,497.3 L297.9,497.3 L297.9,500.5 L299.5,500.5 L299.5,504.0 L301.5,504.0 L301.5,507.7 L303.5,507.7 L303.5,512.5 L311.5,512.5 L311.5,519.2 L336.0,519.2 L336.0,526.9 L337.5,526.9 L337.5,537.5 L491.3,537.5 L491.3,537.5" fill="none" stroke="#bc173c" stroke-width="1.35"/>
<path d="M103.0,384.8 L108.5,384.8 L110.0,384.8 L110.0,386.5 L111.5,386.5 L112.5,386.5 L112.5,387.9 L114.4,387.9 L114.4,389.4 L115.4,389.4 L116.4,389.4 L116.4,391.4 L118.2,391.4 L118.2,393.5 L119.2,393.5 L120.2,393.5 L120.2,394.8 L122.1,394.8 L122.1,396.2 L124.0,396.2 L124.0,397.5 L125.0,397.5 L126.2,397.5 L126.2,398.5 L128.6,398.5 L128.6,399.5 L129.8,399.5 L131.0,399.5 L131.0,401.5 L133.4,401.5 L133.4,403.5 L134.6,403.5 L135.7,403.5 L135.7,405.2 L137.9,405.2 L137.9,407.0 L140.2,407.0 L140.2,408.7 L141.3,408.7 L142.4,408.7 L142.4,409.7 L144.7,409.7 L144.7,410.6 L146.9,410.6 L146.9,411.6 L148.0,411.6 L149.0,411.6 L149.0,412.6 L150.9,412.6 L150.9,413.6 L152.9,413.6 L152.9,414.6 L154.8,414.6 L154.8,415.6 L155.8,415.6 L156.8,415.6 L156.8,417.2 L158.7,417.2 L158.7,418.9 L160.6,418.9 L160.6,420.5 L161.5,420.5 L162.5,420.5 L162.5,421.4 L164.4,421.4 L164.4,422.2 L166.3,422.2 L166.3,423.1 L167.3,423.1 L168.6,423.1 L168.6,424.1 L171.2,424.1 L171.2,425.0 L173.7,425.0 L173.7,426.0 L175.0,426.0 L176.0,426.0 L176.0,427.0 L177.9,427.0 L177.9,427.9 L179.8,427.9 L179.8,428.9 L180.8,428.9 L182.1,428.9 L182.1,430.9 L184.7,430.9 L184.7,433.0 L187.2,433.0 L187.2,435.0 L188.5,435.0 L189.9,435.0 L189.9,436.8 L192.6,436.8 L192.6,438.5 L194.0,438.5 L195.0,438.5 L195.0,439.3 L197.0,439.3 L197.0,440.0 L199.0,440.0 L199.0,440.8 L200.0,440.8 L200.9,440.8 L200.9,443.1 L202.9,443.1 L202.9,445.5 L203.8,445.5 L205.1,445.5 L205.1,446.7 L207.7,446.7 L207.7,447.8 L210.2,447.8 L210.2,449.0 L211.5,449.0 L212.8,449.0 L212.8,450.9 L215.3,450.9 L215.3,452.7 L217.9,452.7 L217.9,454.6 L219.2,454.6 L220.2,454.6 L220.2,455.6 L222.1,455.6 L222.1,456.7 L224.1,456.7 L224.1,457.8 L226.0,457.8 L226.0,458.8 L227.0,458.8 L229.9,458.8 L229.9,459.6 L235.7,459.6 L235.7,460.3 L238.6,460.3 L239.7,460.3 L239.7,461.0 L241.8,461.0 L241.8,461.8 L243.9,461.8 L243.9,462.5 L245.0,462.5 L249.2,462.5 L249.2,463.2 L257.8,463.2 L257.8,464.0 L262.0,464.0 L264.0,464.0 L264.0,464.9 L268.0,464.9 L268.0,465.8 L270.0,465.8 L272.0,465.8 L272.0,466.6 L276.0,466.6 L276.0,467.5 L278.0,467.5 L279.7,467.5 L279.7,468.3 L283.0,468.3 L283.0,469.2 L286.3,469.2 L286.3,470.0 L288.0,470.0 L291.0,470.0 L291.0,470.8 L297.0,470.8 L297.0,471.5 L300.0,471.5 L305.0,471.5 L307.5,471.5 L307.5,472.5 L310.0,472.5 L313.5,472.5 L313.5,473.5 L317.0,473.5 L318.0,473.5 L318.0,474.5 L320.0,474.5 L320.0,475.5 L321.0,475.5 L322.4,475.5 L322.4,476.2 L325.1,476.2 L325.1,477.0 L326.5,477.0 L327.5,477.0 L327.5,478.5 L329.4,478.5 L329.4,480.0 L330.4,480.0 L331.7,480.0 L331.7,482.5 L333.0,482.5 L334.2,482.5 L334.2,483.2 L336.8,483.2 L336.8,484.0 L338.0,484.0 L345.8,484.0 L345.8,485.3 L353.5,485.3 L354.6,485.3 L354.6,486.1 L356.9,486.1 L356.9,487.0 L358.0,487.0 L359.2,487.0 L359.2,488.2 L361.8,488.2 L361.8,489.5 L363.0,489.5 L364.0,489.5 L364.0,490.2 L366.0,490.2 L366.0,491.0 L367.0,491.0 L369.8,491.0 L369.8,491.8 L375.2,491.8 L375.2,492.5 L378.0,492.5 L379.0,492.5 L379.0,493.6 L381.0,493.6 L381.0,494.6 L382.0,494.6 L427.7,494.6 L427.7,494.6 L429.0,494.6 L429.0,497.3 L432.5,497.3 L432.5,500.5 L434.4,500.5 L434.4,504.0 L450.6,504.0 L450.6,504.0 L450.6,504.0 L450.6,512.8 L488.0,512.8 L488.0,512.8" fill="none" stroke="#45a5dd" stroke-width="1.35"/>
<path d="M128.8,32.4V37.6M140.4,36.2V41.4M152.0,42.8V48.0M178.0,55.9V61.1M184.6,58.7V63.9M204.8,74.2V79.4M222.0,86.2V91.4M261.5,110.3V115.5M280.0,120.9V126.1M282.5,120.9V126.1M285.0,120.9V126.1M291.0,122.4V127.6M293.5,122.4V127.6M296.0,124.5V129.7M298.0,124.5V129.7M303.0,128.4V133.6M306.0,128.4V133.6M309.0,128.4V133.6M315.0,131.2V136.4M318.0,131.2V136.4M321.0,131.2V136.4M324.0,131.2V136.4M327.0,132.4V137.6M330.0,132.4V137.6M334.0,135.1V140.3M343.0,142.2V147.4M347.0,142.2V147.4M351.0,142.2V147.4M355.0,142.2V147.4M359.0,142.2V147.4M365.0,142.2V147.4M378.0,142.2V147.4M381.0,142.2V147.4M384.0,142.2V147.4M387.0,142.2V147.4M381.0,142.2V147.4M384.0,142.2V147.4M387.0,142.2V147.4M389.0,142.2V147.4M398.8,142.2V147.4M414.3,142.2V147.4M416.3,142.2V147.4M425.8,150.4V155.6M429.8,150.4V155.6M433.2,150.4V155.6M440.6,150.4V155.6M442.6,150.4V155.6M450.8,150.4V155.6M455.5,150.4V155.6M474.7,150.4V155.6M481.7,150.4V155.6M489.0,150.4V155.6M504.8,150.4V155.6" stroke="#bc173c" stroke-width="1" fill="none"/>
<path d="M300.0,112.9V118.1M303.0,112.9V118.1M306.0,112.9V118.1M310.0,113.9V119.1M313.0,113.9V119.1M318.0,114.9V120.1M321.0,116.9V122.1M325.0,117.7V122.8M330.0,121.4V126.6M333.0,123.9V129.1M336.0,124.7V129.8M340.0,125.4V130.6M343.0,125.4V130.6M346.0,126.7V131.9M350.0,126.7V131.9M354.0,126.7V131.9M358.0,128.4V133.6M361.0,129.7V134.8M364.0,130.9V136.1M368.0,132.4V137.6M372.0,133.2V138.3M376.0,133.9V139.1M380.0,135.0V140.2M382.0,136.0V141.2M384.0,136.0V141.2M386.0,136.0V141.2M388.0,136.0V141.2M414.0,136.0V141.2M416.0,136.0V141.2M418.0,136.0V141.2M420.0,136.0V141.2M422.0,136.0V141.2M424.0,136.0V141.2M426.0,136.0V141.2M428.5,136.0V141.2M431.0,138.7V143.9M433.0,141.9V147.1M436.0,145.4V150.6M438.5,145.4V150.6M441.0,145.4V150.6M443.0,145.4V150.6M445.0,145.4V150.6M447.0,145.4V150.6M449.0,145.4V150.6M460.0,154.2V159.4M462.0,154.2V159.4M464.0,154.2V159.4M466.0,154.2V159.4M474.3,154.2V159.4M480.0,154.2V159.4M482.0,154.2V159.4M484.0,154.2V159.4M486.0,154.2V159.4" stroke="#45a5dd" stroke-width="1" fill="none"/>
<path d="M128.5,391.8V397.0M142.3,399.5V404.7M154.8,405.4V410.6M170.2,428.4V433.6M178.8,444.7V449.9M181.0,446.6V451.8M183.0,446.6V451.8M184.6,446.6V451.8M188.0,452.4V457.6M190.0,452.4V457.6M192.0,455.3V460.5M194.0,458.7V463.9M196.0,458.7V463.9M198.5,463.0V468.2M200.6,465.1V470.3M202.5,465.1V470.3M204.5,465.1V470.3M207.0,467.2V472.4M213.3,469.3V474.5M215.5,471.0V476.2M218.6,473.1V478.3M222.8,473.1V478.3M225.0,474.6V479.8M230.2,476.7V481.9M234.4,476.7V481.9M236.5,476.7V481.9M238.7,476.7V481.9M246.0,476.7V481.9M253.5,479.9V485.1M255.5,484.1V489.3M257.7,484.1V489.3M262.0,484.1V489.3M278.9,486.7V491.9M283.0,490.5V495.7M286.0,490.5V495.7M287.3,490.5V495.7M289.0,490.5V495.7M291.3,490.5V495.7M293.0,491.5V496.7M295.0,494.7V499.9M297.0,494.7V499.9M299.0,497.9V503.1M301.0,501.4V506.6M310.4,509.9V515.1M316.1,516.6V521.8M320.2,516.6V521.8M327.1,516.6V521.8M328.8,516.6V521.8M330.0,516.6V521.8M348.0,534.9V540.1M365.0,534.9V540.1M380.7,534.9V540.1M383.9,534.9V540.1M387.2,534.9V540.1M396.3,534.9V540.1M421.5,534.9V540.1M427.4,534.9V540.1M456.8,534.9V540.1M490.1,534.9V540.1" stroke="#bc173c" stroke-width="1" fill="none"/>
<path d="M300.0,468.9V474.1M303.0,468.9V474.1M306.0,468.9V474.1M310.0,469.9V475.1M313.0,469.9V475.1M318.0,470.9V476.1M321.0,472.9V478.1M325.0,473.6V478.9M330.0,477.4V482.6M333.0,479.9V485.1M336.0,480.6V485.9M340.0,481.4V486.6M343.0,481.4V486.6M346.0,482.7V487.9M350.0,482.7V487.9M354.0,482.7V487.9M358.0,484.4V489.6M361.0,485.6V490.9M364.0,486.9V492.1M368.0,488.4V493.6M372.0,489.1V494.4M376.0,489.9V495.1M380.0,490.9V496.2M382.0,492.0V497.2M384.0,492.0V497.2M386.0,492.0V497.2M388.0,492.0V497.2M414.0,492.0V497.2M416.0,492.0V497.2M418.0,492.0V497.2M420.0,492.0V497.2M422.0,492.0V497.2M424.0,492.0V497.2M426.0,492.0V497.2M428.5,492.0V497.2M431.0,494.7V499.9M433.0,497.9V503.1M436.0,501.4V506.6M438.5,501.4V506.6M441.0,501.4V506.6M443.0,501.4V506.6M445.0,501.4V506.6M447.0,501.4V506.6M449.0,501.4V506.6M460.0,510.2V515.4M462.0,510.2V515.4M464.0,510.2V515.4M466.0,510.2V515.4M474.3,510.2V515.4M480.0,510.2V515.4M482.0,510.2V515.4M484.0,510.2V515.4M486.0,510.2V515.4M228.0,456.2V461.4M230.0,456.9V462.2M232.3,456.9V462.2M262.0,461.4V466.6M278.9,464.9V470.1M286.3,466.6V471.8M288.5,467.4V472.6M291.0,467.4V472.6M293.5,468.1V473.4M296.0,468.1V473.4M298.5,468.9V474.1" stroke="#45a5dd" stroke-width="1" fill="none"/>
<path d="M128.2,211.6H143.6M135.9,209.2V214.2" stroke="#45a5dd" stroke-width="1.4" fill="none"/>
<path d="M128.2,224.6H143.6M135.9,222.2V227.2" stroke="#bc173c" stroke-width="1.4" fill="none"/>
<text x="147.6" y="214.1" font-size="9.5" fill="#231f20" stroke="#231f20" stroke-width="0.3" text-anchor="start" font-weight="normal" textLength="25.2" lengthAdjust="spacingAndGlyphs" >Ide-cel</text>
<text x="147.6" y="226.29999999999998" font-size="9.5" fill="#231f20" stroke="#231f20" stroke-width="0.3" text-anchor="start" font-weight="normal" textLength="72.1" lengthAdjust="spacingAndGlyphs" >Standard regimens</text>
<path d="M128.2,580.6H143.6M135.9,578.2V583.2" stroke="#45a5dd" stroke-width="1.4" fill="none"/>
<path d="M128.2,593.1H143.6M135.9,590.7V595.7" stroke="#bc173c" stroke-width="1.4" fill="none"/>
<text x="146.9" y="583.1" font-size="9.5" fill="#231f20" stroke="#231f20" stroke-width="0.3" text-anchor="start" font-weight="normal" textLength="25.2" lengthAdjust="spacingAndGlyphs" >Ide-cel</text>
<text x="146.9" y="594.8000000000001" font-size="9.5" fill="#231f20" stroke="#231f20" stroke-width="0.3" text-anchor="start" font-weight="normal" textLength="130.5" lengthAdjust="spacingAndGlyphs" >Standard regimens Weibull model</text>
<text x="409.7" y="55.9" font-size="9.5" fill="#231f20" stroke="#231f20" stroke-width="0.3" text-anchor="start" font-weight="normal" textLength="86" lengthAdjust="spacingAndGlyphs" >Median OS<tspan font-size="6.5" dy="-3.2">†</tspan><tspan dy="3.2"> (95% CI)</tspan></text>
<text x="406.5" y="69.5" font-size="9.5" fill="#56aee2" stroke="#56aee2" stroke-width="0.3" text-anchor="end" font-weight="normal" textLength="26.9" lengthAdjust="spacingAndGlyphs" >Ide-cel</text>
<text x="409.7" y="69.5" font-size="9.5" fill="#56aee2" stroke="#56aee2" stroke-width="0.3" text-anchor="start" font-weight="normal" textLength="93" lengthAdjust="spacingAndGlyphs" >41.4 months (30.9–NR)</text>
<text x="406.5" y="82.7" font-size="9.5" fill="#bc173c" stroke="#bc173c" stroke-width="0.3" text-anchor="end" font-weight="normal" textLength="78.2" lengthAdjust="spacingAndGlyphs" >Standard regimens</text>
<text x="409.7" y="82.7" font-size="9.5" fill="#bc173c" stroke="#bc173c" stroke-width="0.3" text-anchor="start" font-weight="normal" textLength="93" lengthAdjust="spacingAndGlyphs" >37.9 months (23.4–NR)</text>
<text x="409.7" y="97.7" font-size="9.5" fill="#231f20" stroke="#231f20" stroke-width="0.3" text-anchor="start" font-weight="normal" textLength="53.8" lengthAdjust="spacingAndGlyphs" >Hazard ratio<tspan font-size="6.5" dy="-3.2">‡</tspan></text>
<text x="409.7" y="111" font-size="9.5" fill="#231f20" stroke="#231f20" stroke-width="0.3" text-anchor="start" font-weight="normal" textLength="98.8" lengthAdjust="spacingAndGlyphs" >1.01 (95% CI, 0.73–1.40)</text>
<text x="436.8" y="199.7" font-size="9.5" fill="#231f20" stroke="#231f20" stroke-width="0.3" text-anchor="middle" font-weight="normal" textLength="91" lengthAdjust="spacingAndGlyphs" >Piecewise hazard ratio</text>
<text x="363.7" y="213.2" font-size="9.5" fill="#231f20" stroke="#231f20" stroke-width="0.3" text-anchor="start" font-weight="normal" textLength="146.2" lengthAdjust="spacingAndGlyphs" >≤6 months 1.86 (95% CI, 0.88–3.91)</text>
<text x="363.7" y="226.5" font-size="9.5" fill="#231f20" stroke="#231f20" stroke-width="0.3" text-anchor="start" font-weight="normal" textLength="146.2" lengthAdjust="spacingAndGlyphs" >&gt;6 months 0.85 (95% CI, 0.59–1.23)</text>
<text x="87.5" y="316.9" font-size="9.5" fill="#231f20" stroke="#231f20" stroke-width="0.3" text-anchor="end" font-weight="normal" textLength="59.6" lengthAdjust="spacingAndGlyphs" >Patient at Risk:</text>
<text x="87.5" y="330.6" font-size="9.5" fill="#56aee2" stroke="#56aee2" stroke-width="0.3" text-anchor="end" font-weight="normal" textLength="26.9" lengthAdjust="spacingAndGlyphs" >Ide-cel</text>
<text x="87.5" y="343.5" font-size="9.5" fill="#bc173c" stroke="#bc173c" stroke-width="0.3" text-anchor="end" font-weight="normal" textLength="77" lengthAdjust="spacingAndGlyphs" >Standard regimens</text>
<text x="103.0" y="330.6" font-size="9.5" fill="#56aee2" stroke="#56aee2" stroke-width="0.3" text-anchor="middle" font-weight="normal" textLength="14.399999999999999" lengthAdjust="spacingAndGlyphs" >254</text>
<text x="103.0" y="343.6" font-size="9.5" fill="#bc173c" stroke="#bc173c" stroke-width="0.3" text-anchor="middle" font-weight="normal" textLength="14.399999999999999" lengthAdjust="spacingAndGlyphs" >132</text>
<text x="128.3" y="330.6" font-size="9.5" fill="#56aee2" stroke="#56aee2" stroke-width="0.3" text-anchor="middle" font-weight="normal" textLength="14.399999999999999" lengthAdjust="spacingAndGlyphs" >240</text>
<text x="128.3" y="343.6" font-size="9.5" fill="#bc173c" stroke="#bc173c" stroke-width="0.3" text-anchor="middle" font-weight="normal" textLength="14.399999999999999" lengthAdjust="spacingAndGlyphs" >128</text>
<text x="153.6" y="330.6" font-size="9.5" fill="#56aee2" stroke="#56aee2" stroke-width="0.3" text-anchor="middle" font-weight="normal" textLength="14.399999999999999" lengthAdjust="spacingAndGlyphs" >223</text>
<text x="153.6" y="343.6" font-size="9.5" fill="#bc173c" stroke="#bc173c" stroke-width="0.3" text-anchor="middle" font-weight="normal" textLength="14.399999999999999" lengthAdjust="spacingAndGlyphs" >120</text>
<text x="178.8" y="330.6" font-size="9.5" fill="#56aee2" stroke="#56aee2" stroke-width="0.3" text-anchor="middle" font-weight="normal" textLength="14.399999999999999" lengthAdjust="spacingAndGlyphs" >208</text>
<text x="178.8" y="343.6" font-size="9.5" fill="#bc173c" stroke="#bc173c" stroke-width="0.3" text-anchor="middle" font-weight="normal" textLength="14.399999999999999" lengthAdjust="spacingAndGlyphs" >114</text>
<text x="204.1" y="330.6" font-size="9.5" fill="#56aee2" stroke="#56aee2" stroke-width="0.3" text-anchor="middle" font-weight="normal" textLength="14.399999999999999" lengthAdjust="spacingAndGlyphs" >190</text>
<text x="204.1" y="343.6" font-size="9.5" fill="#bc173c" stroke="#bc173c" stroke-width="0.3" text-anchor="middle" font-weight="normal" textLength="9.6" lengthAdjust="spacingAndGlyphs" >91</text>
<text x="229.4" y="330.6" font-size="9.5" fill="#56aee2" stroke="#56aee2" stroke-width="0.3" text-anchor="middle" font-weight="normal" textLength="14.399999999999999" lengthAdjust="spacingAndGlyphs" >175</text>
<text x="229.4" y="343.6" font-size="9.5" fill="#bc173c" stroke="#bc173c" stroke-width="0.3" text-anchor="middle" font-weight="normal" textLength="9.6" lengthAdjust="spacingAndGlyphs" >91</text>
<text x="254.7" y="330.6" font-size="9.5" fill="#56aee2" stroke="#56aee2" stroke-width="0.3" text-anchor="middle" font-weight="normal" textLength="14.399999999999999" lengthAdjust="spacingAndGlyphs" >169</text>
<text x="254.7" y="343.6" font-size="9.5" fill="#bc173c" stroke="#bc173c" stroke-width="0.3" text-anchor="middle" font-weight="normal" textLength="9.6" lengthAdjust="spacingAndGlyphs" >81</text>
<text x="280.0" y="330.6" font-size="9.5" fill="#56aee2" stroke="#56aee2" stroke-width="0.3" text-anchor="middle" font-weight="normal" textLength="14.399999999999999" lengthAdjust="spacingAndGlyphs" >161</text>
<text x="280.0" y="343.6" font-size="9.5" fill="#bc173c" stroke="#bc173c" stroke-width="0.3" text-anchor="middle" font-weight="normal" textLength="9.6" lengthAdjust="spacingAndGlyphs" >75</text>
<text x="305.2" y="330.6" font-size="9.5" fill="#56aee2" stroke="#56aee2" stroke-width="0.3" text-anchor="middle" font-weight="normal" textLength="14.399999999999999" lengthAdjust="spacingAndGlyphs" >143</text>
<text x="305.2" y="343.6" font-size="9.5" fill="#bc173c" stroke="#bc173c" stroke-width="0.3" text-anchor="middle" font-weight="normal" textLength="9.6" lengthAdjust="spacingAndGlyphs" >59</text>
<text x="330.5" y="330.6" font-size="9.5" fill="#56aee2" stroke="#56aee2" stroke-width="0.3" text-anchor="middle" font-weight="normal" textLength="14.399999999999999" lengthAdjust="spacingAndGlyphs" >103</text>
<text x="330.5" y="343.6" font-size="9.5" fill="#bc173c" stroke="#bc173c" stroke-width="0.3" text-anchor="middle" font-weight="normal" textLength="9.6" lengthAdjust="spacingAndGlyphs" >45</text>
<text x="355.8" y="330.6" font-size="9.5" fill="#56aee2" stroke="#56aee2" stroke-width="0.3" text-anchor="middle" font-weight="normal" textLength="9.6" lengthAdjust="spacingAndGlyphs" >75</text>
<text x="355.8" y="343.6" font-size="9.5" fill="#bc173c" stroke="#bc173c" stroke-width="0.3" text-anchor="middle" font-weight="normal" textLength="9.6" lengthAdjust="spacingAndGlyphs" >32</text>
<text x="381.1" y="330.6" font-size="9.5" fill="#56aee2" stroke="#56aee2" stroke-width="0.3" text-anchor="middle" font-weight="normal" textLength="9.6" lengthAdjust="spacingAndGlyphs" >48</text>
<text x="381.1" y="343.6" font-size="9.5" fill="#bc173c" stroke="#bc173c" stroke-width="0.3" text-anchor="middle" font-weight="normal" textLength="9.6" lengthAdjust="spacingAndGlyphs" >24</text>
<text x="406.4" y="330.6" font-size="9.5" fill="#56aee2" stroke="#56aee2" stroke-width="0.3" text-anchor="middle" font-weight="normal" textLength="9.6" lengthAdjust="spacingAndGlyphs" >44</text>
<text x="406.4" y="343.6" font-size="9.5" fill="#bc173c" stroke="#bc173c" stroke-width="0.3" text-anchor="middle" font-weight="normal" textLength="9.6" lengthAdjust="spacingAndGlyphs" >18</text>
<text x="431.7" y="330.6" font-size="9.5" fill="#56aee2" stroke="#56aee2" stroke-width="0.3" text-anchor="middle" font-weight="normal" textLength="9.6" lengthAdjust="spacingAndGlyphs" >30</text>
<text x="431.7" y="343.6" font-size="9.5" fill="#bc173c" stroke="#bc173c" stroke-width="0.3" text-anchor="middle" font-weight="normal" textLength="9.6" lengthAdjust="spacingAndGlyphs" >11</text>
<text x="456.9" y="330.6" font-size="9.5" fill="#56aee2" stroke="#56aee2" stroke-width="0.3" text-anchor="middle" font-weight="normal" textLength="9.6" lengthAdjust="spacingAndGlyphs" >13</text>
<text x="456.9" y="343.6" font-size="9.5" fill="#bc173c" stroke="#bc173c" stroke-width="0.3" text-anchor="middle" font-weight="normal" textLength="4.8" lengthAdjust="spacingAndGlyphs" >4</text>
<text x="482.2" y="330.6" font-size="9.5" fill="#56aee2" stroke="#56aee2" stroke-width="0.3" text-anchor="middle" font-weight="normal" textLength="4.8" lengthAdjust="spacingAndGlyphs" >4</text>
<text x="482.2" y="343.6" font-size="9.5" fill="#bc173c" stroke="#bc173c" stroke-width="0.3" text-anchor="middle" font-weight="normal" textLength="4.8" lengthAdjust="spacingAndGlyphs" >3</text>
<text x="507.5" y="330.6" font-size="9.5" fill="#56aee2" stroke="#56aee2" stroke-width="0.3" text-anchor="middle" font-weight="normal" textLength="4.8" lengthAdjust="spacingAndGlyphs" >0</text>
<text x="507.5" y="343.6" font-size="9.5" fill="#bc173c" stroke="#bc173c" stroke-width="0.3" text-anchor="middle" font-weight="normal" textLength="4.8" lengthAdjust="spacingAndGlyphs" >0</text>
<text x="410.5" y="407" font-size="9.5" fill="#231f20" stroke="#231f20" stroke-width="0.3" text-anchor="start" font-weight="normal" textLength="88" lengthAdjust="spacingAndGlyphs" >Median OS (95% CI)<tspan font-size="6.5" dy="-3.2">†</tspan></text>
<text x="406.9" y="420.4" font-size="9.5" fill="#56aee2" stroke="#56aee2" stroke-width="0.3" text-anchor="end" font-weight="normal" textLength="27.1" lengthAdjust="spacingAndGlyphs" >Ide-cel</text>
<text x="409.4" y="420.4" font-size="9.5" fill="#56aee2" stroke="#56aee2" stroke-width="0.3" text-anchor="start" font-weight="normal" textLength="95.8" lengthAdjust="spacingAndGlyphs" >41.4 months (30.9–NR)</text>
<text x="405.6" y="434.8" font-size="9.5" fill="#bc173c" stroke="#bc173c" stroke-width="0.3" text-anchor="end" font-weight="normal" textLength="79.1" lengthAdjust="spacingAndGlyphs" >Standard regimens,</text>
<text x="409.4" y="434.8" font-size="9.5" fill="#bc173c" stroke="#bc173c" stroke-width="0.3" text-anchor="start" font-weight="normal" textLength="95.6" lengthAdjust="spacingAndGlyphs" >23.4 months (17.9–NR)</text>
<text x="406.3" y="445.3" font-size="9.5" fill="#bc173c" stroke="#bc173c" stroke-width="0.3" text-anchor="end" font-weight="normal" textLength="59.3" lengthAdjust="spacingAndGlyphs" >Weibull model</text>
<text x="410.5" y="461.6" font-size="9.5" fill="#231f20" stroke="#231f20" stroke-width="0.3" text-anchor="start" font-weight="normal" textLength="53.8" lengthAdjust="spacingAndGlyphs" >Hazard ratio<tspan font-size="6.5" dy="-3.2">‡</tspan></text>
<text x="410.5" y="475.8" font-size="9.5" fill="#231f20" stroke="#231f20" stroke-width="0.3" text-anchor="start" font-weight="normal" textLength="97.6" lengthAdjust="spacingAndGlyphs" >0.72 (95% CI, 0.49–1.01)</text>
<text x="87.7" y="673.1" font-size="9.5" fill="#231f20" stroke="#231f20" stroke-width="0.3" text-anchor="end" font-weight="normal" textLength="58.9" lengthAdjust="spacingAndGlyphs" >Patients at risk</text>
<text x="87.7" y="686.9" font-size="9.5" fill="#56aee2" stroke="#56aee2" stroke-width="0.3" text-anchor="end" font-weight="normal" textLength="26.5" lengthAdjust="spacingAndGlyphs" >Ide-cel</text>
<text x="88.4" y="700.3" font-size="9.5" fill="#bc173c" stroke="#bc173c" stroke-width="0.3" text-anchor="end" font-weight="normal" textLength="80.3" lengthAdjust="spacingAndGlyphs" >Standard regimens,</text>
<text x="88.4" y="710.5" font-size="9.5" fill="#bc173c" stroke="#bc173c" stroke-width="0.3" text-anchor="end" font-weight="normal" textLength="59.6" lengthAdjust="spacingAndGlyphs" >Weibull model</text>
<text x="103.0" y="686.9" font-size="9.5" fill="#56aee2" stroke="#56aee2" stroke-width="0.3" text-anchor="middle" font-weight="normal" textLength="14.399999999999999" lengthAdjust="spacingAndGlyphs" >254</text>
<text x="103.0" y="700.3" font-size="9.5" fill="#bc173c" stroke="#bc173c" stroke-width="0.3" text-anchor="middle" font-weight="normal" textLength="14.399999999999999" lengthAdjust="spacingAndGlyphs" >132</text>
<text x="128.3" y="686.9" font-size="9.5" fill="#56aee2" stroke="#56aee2" stroke-width="0.3" text-anchor="middle" font-weight="normal" textLength="14.399999999999999" lengthAdjust="spacingAndGlyphs" >240</text>
<text x="128.3" y="700.3" font-size="9.5" fill="#bc173c" stroke="#bc173c" stroke-width="0.3" text-anchor="middle" font-weight="normal" textLength="14.399999999999999" lengthAdjust="spacingAndGlyphs" >126</text>
<text x="153.6" y="686.9" font-size="9.5" fill="#56aee2" stroke="#56aee2" stroke-width="0.3" text-anchor="middle" font-weight="normal" textLength="14.399999999999999" lengthAdjust="spacingAndGlyphs" >223</text>
<text x="153.6" y="700.3" font-size="9.5" fill="#bc173c" stroke="#bc173c" stroke-width="0.3" text-anchor="middle" font-weight="normal" textLength="14.399999999999999" lengthAdjust="spacingAndGlyphs" >118</text>
<text x="178.8" y="686.9" font-size="9.5" fill="#56aee2" stroke="#56aee2" stroke-width="0.3" text-anchor="middle" font-weight="normal" textLength="14.399999999999999" lengthAdjust="spacingAndGlyphs" >208</text>
<text x="178.8" y="700.3" font-size="9.5" fill="#bc173c" stroke="#bc173c" stroke-width="0.3" text-anchor="middle" font-weight="normal" textLength="9.6" lengthAdjust="spacingAndGlyphs" >93</text>
<text x="204.1" y="686.9" font-size="9.5" fill="#56aee2" stroke="#56aee2" stroke-width="0.3" text-anchor="middle" font-weight="normal" textLength="14.399999999999999" lengthAdjust="spacingAndGlyphs" >190</text>
<text x="204.1" y="700.3" font-size="9.5" fill="#bc173c" stroke="#bc173c" stroke-width="0.3" text-anchor="middle" font-weight="normal" textLength="9.6" lengthAdjust="spacingAndGlyphs" >67</text>
<text x="229.4" y="686.9" font-size="9.5" fill="#56aee2" stroke="#56aee2" stroke-width="0.3" text-anchor="middle" font-weight="normal" textLength="14.399999999999999" lengthAdjust="spacingAndGlyphs" >175</text>
<text x="229.4" y="700.3" font-size="9.5" fill="#bc173c" stroke="#bc173c" stroke-width="0.3" text-anchor="middle" font-weight="normal" textLength="9.6" lengthAdjust="spacingAndGlyphs" >50</text>
<text x="254.7" y="686.9" font-size="9.5" fill="#56aee2" stroke="#56aee2" stroke-width="0.3" text-anchor="middle" font-weight="normal" textLength="14.399999999999999" lengthAdjust="spacingAndGlyphs" >169</text>
<text x="254.7" y="700.3" font-size="9.5" fill="#bc173c" stroke="#bc173c" stroke-width="0.3" text-anchor="middle" font-weight="normal" textLength="9.6" lengthAdjust="spacingAndGlyphs" >42</text>
<text x="280.0" y="686.9" font-size="9.5" fill="#56aee2" stroke="#56aee2" stroke-width="0.3" text-anchor="middle" font-weight="normal" textLength="14.399999999999999" lengthAdjust="spacingAndGlyphs" >161</text>
<text x="280.0" y="700.3" font-size="9.5" fill="#bc173c" stroke="#bc173c" stroke-width="0.3" text-anchor="middle" font-weight="normal" textLength="9.6" lengthAdjust="spacingAndGlyphs" >34</text>
<text x="305.2" y="686.9" font-size="9.5" fill="#56aee2" stroke="#56aee2" stroke-width="0.3" text-anchor="middle" font-weight="normal" textLength="14.399999999999999" lengthAdjust="spacingAndGlyphs" >143</text>
<text x="305.2" y="700.3" font-size="9.5" fill="#bc173c" stroke="#bc173c" stroke-width="0.3" text-anchor="middle" font-weight="normal" textLength="9.6" lengthAdjust="spacingAndGlyphs" >21</text>
<text x="330.5" y="686.9" font-size="9.5" fill="#56aee2" stroke="#56aee2" stroke-width="0.3" text-anchor="middle" font-weight="normal" textLength="14.399999999999999" lengthAdjust="spacingAndGlyphs" >103</text>
<text x="330.5" y="700.3" font-size="9.5" fill="#bc173c" stroke="#bc173c" stroke-width="0.3" text-anchor="middle" font-weight="normal" textLength="9.6" lengthAdjust="spacingAndGlyphs" >14</text>
<text x="355.8" y="686.9" font-size="9.5" fill="#56aee2" stroke="#56aee2" stroke-width="0.3" text-anchor="middle" font-weight="normal" textLength="9.6" lengthAdjust="spacingAndGlyphs" >75</text>
<text x="355.8" y="700.3" font-size="9.5" fill="#bc173c" stroke="#bc173c" stroke-width="0.3" text-anchor="middle" font-weight="normal" textLength="4.8" lengthAdjust="spacingAndGlyphs" >9</text>
<text x="381.1" y="686.9" font-size="9.5" fill="#56aee2" stroke="#56aee2" stroke-width="0.3" text-anchor="middle" font-weight="normal" textLength="9.6" lengthAdjust="spacingAndGlyphs" >48</text>
<text x="381.1" y="700.3" font-size="9.5" fill="#bc173c" stroke="#bc173c" stroke-width="0.3" text-anchor="middle" font-weight="normal" textLength="4.8" lengthAdjust="spacingAndGlyphs" >8</text>
<text x="406.4" y="686.9" font-size="9.5" fill="#56aee2" stroke="#56aee2" stroke-width="0.3" text-anchor="middle" font-weight="normal" textLength="9.6" lengthAdjust="spacingAndGlyphs" >44</text>
<text x="406.4" y="700.3" font-size="9.5" fill="#bc173c" stroke="#bc173c" stroke-width="0.3" text-anchor="middle" font-weight="normal" textLength="4.8" lengthAdjust="spacingAndGlyphs" >4</text>
<text x="431.7" y="686.9" font-size="9.5" fill="#56aee2" stroke="#56aee2" stroke-width="0.3" text-anchor="middle" font-weight="normal" textLength="9.6" lengthAdjust="spacingAndGlyphs" >30</text>
<text x="431.7" y="700.3" font-size="9.5" fill="#bc173c" stroke="#bc173c" stroke-width="0.3" text-anchor="middle" font-weight="normal" textLength="4.8" lengthAdjust="spacingAndGlyphs" >2</text>
<text x="456.9" y="686.9" font-size="9.5" fill="#56aee2" stroke="#56aee2" stroke-width="0.3" text-anchor="middle" font-weight="normal" textLength="9.6" lengthAdjust="spacingAndGlyphs" >13</text>
<text x="456.9" y="700.3" font-size="9.5" fill="#bc173c" stroke="#bc173c" stroke-width="0.3" text-anchor="middle" font-weight="normal" textLength="4.8" lengthAdjust="spacingAndGlyphs" >1</text>
<text x="482.2" y="686.9" font-size="9.5" fill="#56aee2" stroke="#56aee2" stroke-width="0.3" text-anchor="middle" font-weight="normal" textLength="4.8" lengthAdjust="spacingAndGlyphs" >4</text>
<text x="482.2" y="700.3" font-size="9.5" fill="#bc173c" stroke="#bc173c" stroke-width="0.3" text-anchor="middle" font-weight="normal" textLength="4.8" lengthAdjust="spacingAndGlyphs" >1</text>
<text x="507.5" y="686.9" font-size="9.5" fill="#56aee2" stroke="#56aee2" stroke-width="0.3" text-anchor="middle" font-weight="normal" textLength="4.8" lengthAdjust="spacingAndGlyphs" >0</text>
<text x="507.5" y="700.3" font-size="9.5" fill="#bc173c" stroke="#bc173c" stroke-width="0.3" text-anchor="middle" font-weight="normal" textLength="4.8" lengthAdjust="spacingAndGlyphs" >0</text>
</svg>
</body></html>
